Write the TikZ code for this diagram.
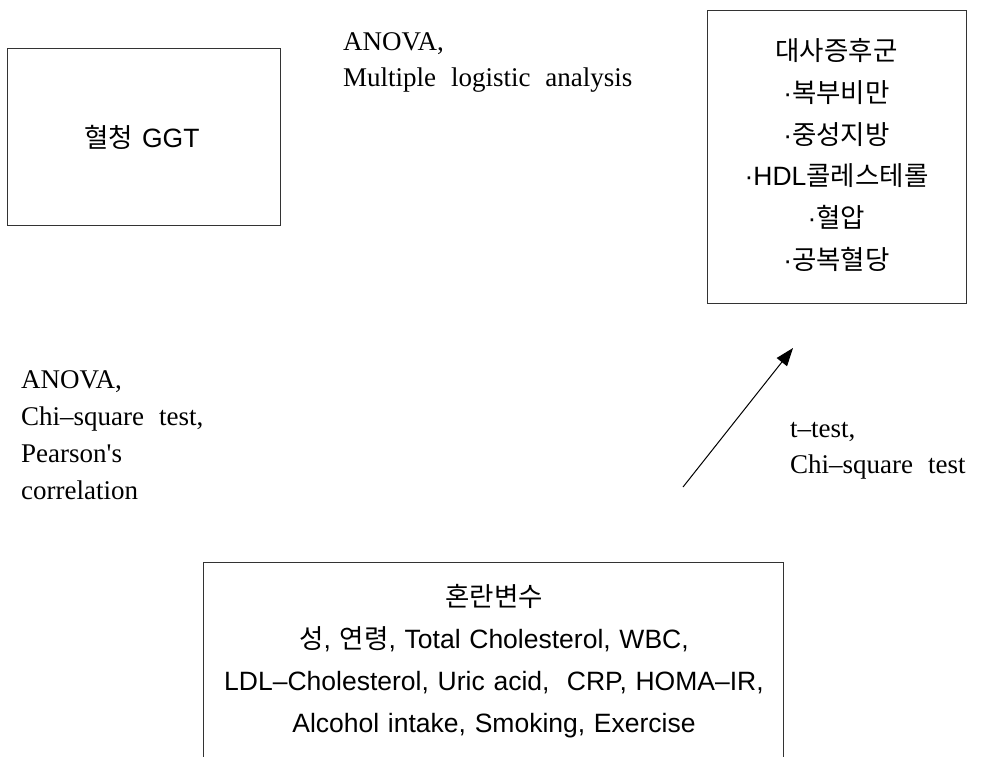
\documentclass[tikz,border=0pt]{standalone}
\usepackage{fontspec}
\setmainfont{Liberation Serif}
\newfontfamily\krfont{Noto Sans CJK KR}
\newfontfamily\boxlatin{Liberation Sans}
\usetikzlibrary{arrows.meta}
\newcommand{\kr}[1]{{\krfont #1}}
\newcommand{\widespace}{\spaceskip=0.55em\relax}
\newcommand{\boxspace}{\spaceskip=0.33em\relax}
\begin{document}
\begin{tikzpicture}[x=1pt,y=-1pt,
  boxframe/.style={draw=black!80,line width=1pt,inner sep=0pt},
  boxtext/.style={align=center,inner sep=0pt,font=\boxlatin\fontsize{26.5}{41.8}\selectfont\boxspace},
  labeltext/.style={anchor=base west,inner sep=0pt,font=\fontsize{27}{37}\selectfont\widespace},
  link/.style={line width=1pt,-{Triangle[length=18pt,width=13pt]}}]
\useasboundingbox (0,0) rectangle (981,756);
\clip (0,0) rectangle (981,756);
% boxes
\node[boxframe,minimum width=273pt,minimum height=177pt] (ggt) at (143.5,136.5) {};
\node[boxtext] (ggttext) at (142,137) {\kr{혈청} GGT};
\node[boxframe,minimum width=580pt,minimum height=240pt] (conf) at (493,682) {};
\node[boxtext] (conftext) at (494,661) {\kr{혼란변수}\\\kr{성}, \kr{연령}, Total Cholesterol, WBC,\\LDL–Cholesterol, Uric acid, \ CRP, HOMA–IR,\\Alcohol intake, Smoking, Exercise};
\node[boxframe,minimum width=259pt,minimum height=293pt] (mets) at (836.5,156.5) {};
\node[boxtext] (metstext) at (836.5,155) {\kr{대사증후군}\\·\kr{복부비만}\\·\kr{중성지방}\\·HDL\kr{콜레스테롤}\\·\kr{혈압}\\·\kr{공복혈당}};
% labels
\node[labeltext] (t1) at (343,50) {ANOVA,};
\node[labeltext] (t2) at (343,86) {Multiple logistic analysis};
\node[labeltext] (l1) at (21,388) {ANOVA,};
\node[labeltext] (l2) at (21,425) {Chi–square test,};
\node[labeltext] (l3) at (21,462) {Pearson\textquotesingle s};
\node[labeltext] (l4) at (21,499) {correlation};
\node[labeltext] (r1) at (790,437) {t–test,};
\node[labeltext] (r2) at (790,473) {Chi–square test};
% arrow
\coordinate (atail) at (683,487);
\coordinate (ahead) at (793,348);
\draw[link] (atail) -- (ahead);
\end{tikzpicture}
\end{document}
